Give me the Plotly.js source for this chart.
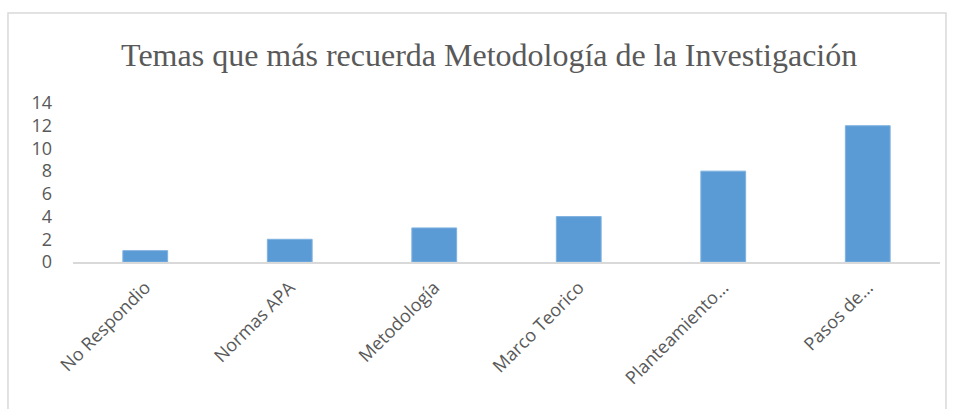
<!DOCTYPE html>
<html><head><meta charset="utf-8">
<script src="https://cdn.plot.ly/plotly-3.0.1.min.js"></script>
<style>html,body{margin:0;padding:0;background:#fff}#chart{width:956px;height:409px}</style>
</head><body><div id="chart"></div>
<script>
const categories = ["No Respondio", "Normas APA", "Metodología", "Marco Teorico", "Planteamiento…", "Pasos de…"];
const values = [1, 2, 3, 4, 8, 12];
const yTicks = [0, 2, 4, 6, 8, 10, 12, 14];
const titleText = "Temas que más recuerda Metodología de la Investigación";

const trace = {
  type: "bar", x: categories, y: values,
  marker: {color: "#5B9BD5", line: {color: "#7fb2e0", width: 1}},
  hoverinfo: "x+y"
};
const layout = {
  width: 956, height: 409,
  margin: {l: 73, r: 16, t: 103, b: 147},
  paper_bgcolor: "#fff", plot_bgcolor: "#fff",
  showlegend: false,
  bargap: 0.69,
  title: {text: titleText, font: {family: "Liberation Serif, Times New Roman, serif", size: 32, color: "#595959"},
          x: 0.48, xref: "paper", xanchor: "center", y: 0.865, yanchor: "middle"},
  xaxis: {
    tickangle: -45, showgrid: false, zeroline: false,
    showline: true, linecolor: "#d9d9d9", linewidth: 2,
    ticks: "", ticklabelstandoff: 6,
    tickfont: {family: "Open Sans, Carlito, sans-serif", size: 18, color: "#595959"}
  },
  yaxis: {
    range: [0, 14], tickvals: yTicks, ticktext: yTicks.map(String),
    showgrid: false, zeroline: false, showline: false, ticks: "",
    ticklabelstandoff: 20,
    tickfont: {family: "Open Sans, Carlito, sans-serif", size: 18, color: "#595959"}
  },
  shapes: [{type: "rect", xref: "paper", yref: "paper",
    x0: -0.075, x1: 1.0069, y0: -1.2, y1: 1.566,
    line: {color: "#d9d9d9", width: 1.5}, fillcolor: "rgba(0,0,0,0)", layer: "below"}]
};
Plotly.newPlot("chart", [trace], layout, {displayModeBar: false, staticPlot: true});
</script></body></html>
